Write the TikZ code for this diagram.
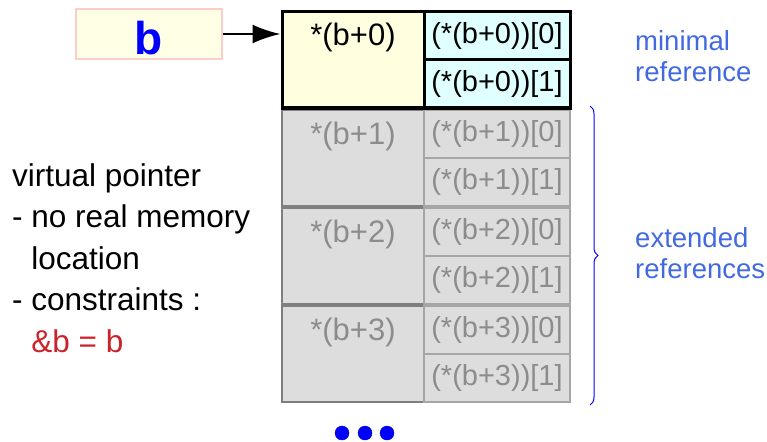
\documentclass[tikz,border=0pt]{standalone}
\usepackage{fontspec}
\setmainfont{Liberation Sans}
\usetikzlibrary{arrows.meta}
\usetikzlibrary{positioning}
\usetikzlibrary{decorations.pathreplacing}
\definecolor{ptrfill}{HTML}{FFFFE6}
\definecolor{ptrline}{HTML}{FFCCCC}
\definecolor{cellyellow}{HTML}{FFFFE0}
\definecolor{cellcyan}{HTML}{E0FFFF}
\definecolor{cellgray}{HTML}{DDDDDD}
\definecolor{lineleft}{HTML}{7F7F7F}
\definecolor{lineright}{HTML}{A6A6A6}
\definecolor{textgray}{HTML}{8C8C8C}
\definecolor{noteblue}{HTML}{4169E1}
\definecolor{notered}{HTML}{CC2229}
\tikzset{ptr/.style = {draw = ptrline, fill = ptrfill, line width = 2.5,
                       minimum width = 146, minimum height = 50, inner sep = 0}}
\tikzset{elem/.style = {draw, inner sep = 0, minimum width = 142, minimum height = 96}}
\tikzset{sub/.style = {draw, inner sep = 0, minimum width = 146, minimum height = 48,
                       font = \fontsize{29}{30}\selectfont}}
\tikzset{elemtext/.style = {anchor = base, inner sep = 0, font = \fontsize{31}{33}\selectfont}}
\tikzset{dot/.style = {fill = blue, draw = blue!70!black, circle, inner sep = 0, minimum size = 14}}

\begin{document}
\begin{tikzpicture}[x = 1pt, y = -1pt]
      \useasboundingbox (0, 0) rectangle (767, 441);
      % extended references
      \foreach \k in {1, 2, 3} {
        \node [elem, fill = cellgray, draw = lineleft, line width = 2.5] (e\k) at (353, {60+98*\k}) {};
        \node [elemtext, text = textgray] (t\k) at (353, {46+98*\k}) {*(b+\k)};
        \node [sub, fill = cellgray, draw = lineright, line width = 2.5, text = textgray] (s\k a) at (497, {36+98*\k}) {(*(b+\k))[0]};
        \node [sub, fill = cellgray, draw = lineright, line width = 2.5, text = textgray] (s\k b) at (497, {84+98*\k}) {(*(b+\k))[1]};
      }
      % minimal reference
      \node [elem, fill = cellyellow, line width = 3] (e0) at (353, 60) {};
      \node [elemtext] (t0) at (353, 46) {*(b+0)};
      \node [sub, fill = cellcyan, line width = 3] (s0a) at (497, 36) {(*(b+0))[0]};
      \node [sub, fill = cellcyan, line width = 3] (s0b) at (497, 84) {(*(b+0))[1]};
      % pointer
      \node [ptr, text = blue, text height = 42, text depth = 0, font = \fontsize{46}{48}\selectfont\bfseries] (b) at (149, 34) {b};
      \draw [line width = 2.5, -{Latex[length = 28, width = 19]}] (b.east) -- (b.east -| e0.west);
      % brace
      \coordinate (br1) at (590, 106);
      \coordinate (br2) at (590, 405);
      \draw [blue, line width = 1, decorate, decoration = {brace, amplitude = 8}] (br1) -- (br2);
      % dots
      \node [dot] (d1) at (342, 433) {};
      \node [dot] (d2) at (365, 433) {};
      \node [dot] (d3) at (387, 433) {};
      % notes
      \node [anchor = base west, align = left, inner sep = 0, font = \fontsize{31.5}{41.5}\selectfont] (virt) at (12, 352)
        {virtual pointer\\- no real memory\\\phantom{- }location\\- constraints :\\\phantom{- }\textcolor{notered}{\&b = b}};
      \node [anchor = base west, align = left, inner sep = 0, text = noteblue, font = \fontsize{27.5}{31}\selectfont] (mini) at (635, 82)
        {minimal\\reference};
      \node [anchor = base west, align = left, inner sep = 0, text = noteblue, font = \fontsize{27.5}{31}\selectfont] (ext) at (635, 278)
        {extended\\references};
\end{tikzpicture}
\end{document}
